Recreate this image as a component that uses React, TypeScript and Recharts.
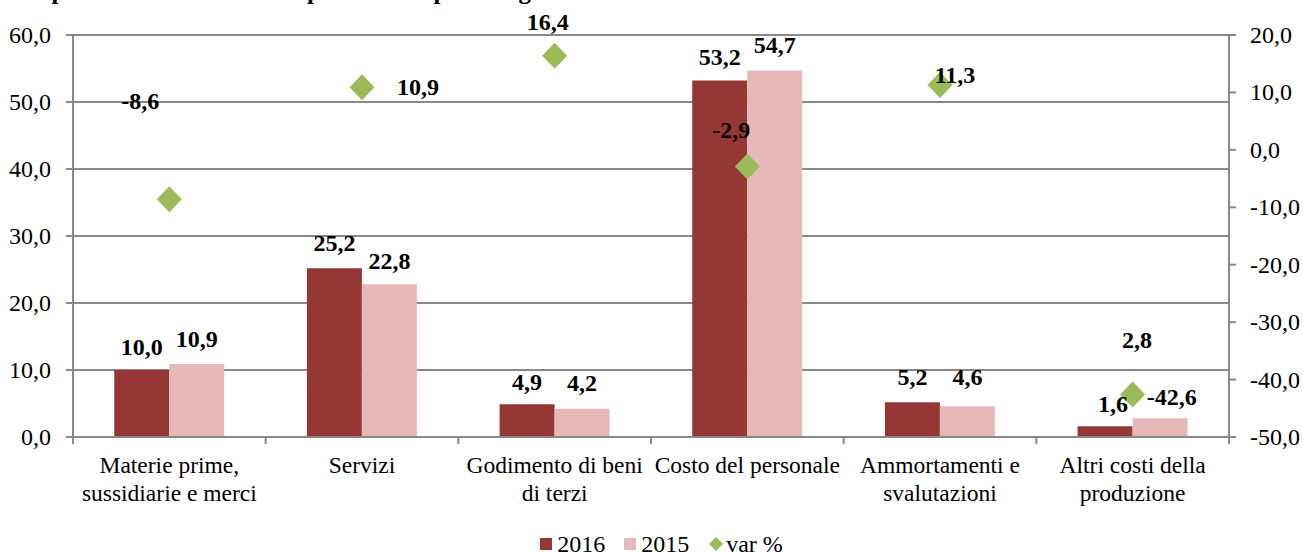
import { ComposedChart, Bar, Line, XAxis, YAxis, CartesianGrid, Legend, LabelList } from 'recharts';

const categories = [
    'Materie prime,\nsussidiarie e merci',
    'Servizi',
    'Godimento di beni\ndi terzi',
    'Costo del personale',
    'Ammortamenti e\nsvalutazioni',
    'Altri costi della\nproduzione',
];
const values2016 = [10.0, 25.2, 4.9, 53.2, 5.2, 1.6];
const values2015 = [10.9, 22.8, 4.2, 54.7, 4.6, 2.8];
const varPct = [-8.6, 10.9, 16.4, -2.9, 11.3, -42.6];
const leftTicks = [0, 10, 20, 30, 40, 50, 60];
const rightTicks = [-50, -40, -30, -20, -10, 0, 10, 20];

// label offsets (px) relative to the mark, copied by eye from the original
const offsets2016 = [[0, -23], [0, -25], [0, -22], [0, -24], [0, -25], [8, -22]];
const offsets2015 = [[0, -25], [0, -23], [0, -26], [0, -26], [0, -29], [-23, -78]];
const offsetsVar = [[-29, -98], [56, 0], [-7, -34], [-16, -37], [15, -10], [39, 2]];

const FONT = '"Times New Roman", "Liberation Serif", serif';
const GRID = '#898989';
const C2016 = '#953735';
const C2015 = '#E6B9B8';
const CVAR = '#9BBB59';
const BAND = 1156 / 6;

const data = categories.map((name, i) => ({
    name,
    y2016: values2016[i],
    y2015: values2015[i],
    varPct: varPct[i],
}));

const fmt = (v: number) => v.toFixed(1).replace('.', ',');

function makeLabel(offs: number[][], isBar: boolean) {
    return (props: any) => {
        const { index, value } = props;
        const vb = props.viewBox || {};
        let cx: number, cy: number;
        if (isBar) {
            cx = (vb.x ?? props.x) + (vb.width ?? props.width) / 2;
            cy = vb.y ?? props.y;
        } else {
            cx = props.x ?? vb.x;
            cy = props.y ?? vb.y;
        }
        const [dx, dy] = offs[index] || [0, 0];
        return (
            <text
                x={cx + dx}
                y={cy + dy}
                textAnchor="middle"
                dominantBaseline="central"
                fontFamily={FONT}
                fontSize={24}
                fontWeight="bold"
                fill="#000"
            >
                {fmt(Number(value))}
            </text>
        );
    };
}

function CategoryTick(props: any) {
    const { x, y, payload, index } = props;
    const lines = String(payload.value).split('\n');
    return (
        <g>
            <line x1={x - BAND / 2} y1={y} x2={x - BAND / 2} y2={y + 7} stroke={GRID} strokeWidth={2} />
            {index === categories.length - 1 && (
                <line x1={x + BAND / 2} y1={y} x2={x + BAND / 2} y2={y + 7} stroke={GRID} strokeWidth={2} />
            )}
            {lines.map((l, i) => (
                <text
                    key={i}
                    x={x}
                    y={y + 28 + i * 28}
                    textAnchor="middle"
                    dominantBaseline="central"
                    fontFamily={FONT}
                    fontSize={23.5}
                    fill="#000"
                >
                    {l}
                </text>
            ))}
        </g>
    );
}

function YTick(props: any) {
    const { x, y, payload, textAnchor } = props;
    return (
        <text
            x={x}
            y={y}
            textAnchor={textAnchor}
            dominantBaseline="central"
            fontFamily={FONT}
            fontSize={24}
            fill="#000"
        >
            {fmt(Number(payload.value))}
        </text>
    );
}

function Diamond(props: any) {
    const { cx, cy, index } = props;
    if (cx == null || cy == null) return <g key={index} />;
    return (
        <path
            key={index}
            d={`M${cx},${cy - 13} L${cx + 12.5},${cy} L${cx},${cy + 13} L${cx - 12.5},${cy} Z`}
            fill={CVAR}
        />
    );
}

function LegendContent() {
    const item = { display: 'flex', alignItems: 'center', marginRight: 19 };
    const sq = (c: string) => ({ width: 12, height: 12, background: c, marginRight: 5 });
    return (
        <div
            style={{
                display: 'flex',
                justifyContent: 'center',
                alignItems: 'center',
                fontFamily: FONT,
                fontSize: 24,
                lineHeight: '24px',
                paddingTop: 10,
                paddingLeft: 20,
                color: '#000',
            }}
        >
            <div style={item}>
                <div style={sq(C2016)} />
                <span>2016</span>
            </div>
            <div style={item}>
                <div style={sq(C2015)} />
                <span>2015</span>
            </div>
            <div style={{ display: 'flex', alignItems: 'center' }}>
                <svg width={16} height={16} style={{ marginRight: 2 }}>
                    <path d="M8,1 L15,8 L8,15 L1,8 Z" fill={CVAR} />
                </svg>
                <span>var %</span>
            </div>
        </div>
    );
}

export default function App() {
    return (
        <div
            style={{
                position: 'absolute',
                left: 0,
                top: 0,
                width: 1303,
                height: 552,
                overflow: 'hidden',
                background: '#fff',
                fontFamily: FONT,
            }}
        >
            <svg width={1303} height={20} style={{ position: 'absolute', left: 0, top: 0 }}>
                <text x={0} y={-1} fontFamily={FONT} fontSize={25} fontWeight="bold" fill="#000">
                    Composizione dei costi della produzione per categoria
                </text>
            </svg>
            <ComposedChart
                width={1303}
                height={552}
                data={data}
                margin={{ top: 35, right: 0, bottom: 0, left: 0 }}
                barGap={0}
                barCategoryGap="21.4%"
            >
                <CartesianGrid vertical={false} stroke={GRID} strokeWidth={2} yAxisId="left" />
                <XAxis
                    dataKey="name"
                    height={85}
                    interval={0}
                    tickLine={false}
                    tickSize={0}
                    tickMargin={0}
                    axisLine={{ stroke: GRID, strokeWidth: 2 }}
                    tick={<CategoryTick />}
                />
                <YAxis
                    yAxisId="left"
                    orientation="left"
                    width={73}
                    domain={[0, 60]}
                    ticks={leftTicks}
                    tickSize={7}
                    tickMargin={15}
                    axisLine={{ stroke: GRID, strokeWidth: 2 }}
                    tickLine={{ stroke: GRID, strokeWidth: 2 }}
                    tick={<YTick />}
                    interval={0}
                />
                <YAxis
                    yAxisId="right"
                    orientation="right"
                    width={74}
                    domain={[-50, 20]}
                    ticks={rightTicks}
                    tickSize={7}
                    tickMargin={14}
                    axisLine={{ stroke: GRID, strokeWidth: 2 }}
                    tickLine={{ stroke: GRID, strokeWidth: 2 }}
                    tick={<YTick />}
                    interval={0}
                />
                <Bar yAxisId="left" dataKey="y2016" name="2016" fill={C2016} isAnimationActive={false}>
                    <LabelList dataKey="y2016" content={makeLabel(offsets2016, true)} />
                </Bar>
                <Bar yAxisId="left" dataKey="y2015" name="2015" fill={C2015} isAnimationActive={false}>
                    <LabelList dataKey="y2015" content={makeLabel(offsets2015, true)} />
                </Bar>
                <Line
                    yAxisId="right"
                    dataKey="varPct"
                    name="var %"
                    stroke="none"
                    strokeWidth={0}
                    dot={Diamond}
                    activeDot={false}
                    isAnimationActive={false}
                >
                    <LabelList dataKey="varPct" content={makeLabel(offsetsVar, false)} />
                </Line>
                <Legend verticalAlign="bottom" height={30} content={<LegendContent />} />
            </ComposedChart>
        </div>
    );
}
